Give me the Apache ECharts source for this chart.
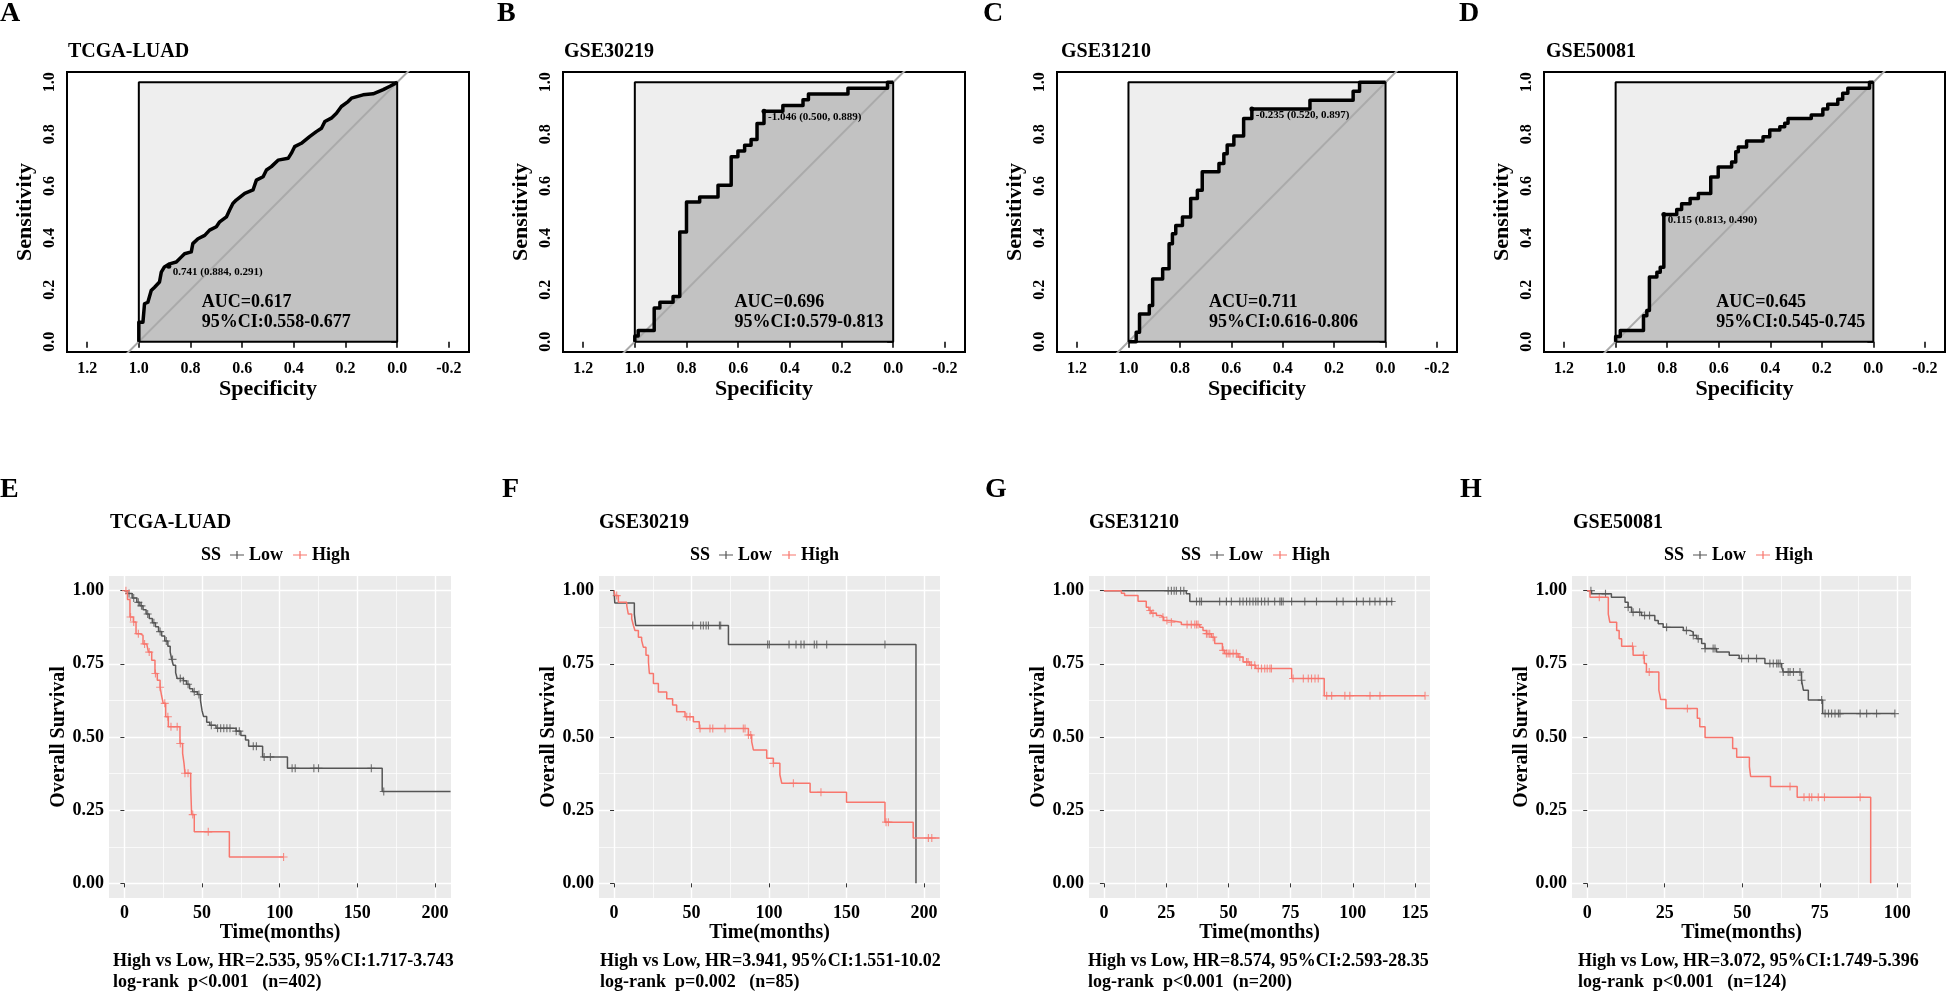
<!DOCTYPE html>
<html lang="en">
<head>
<meta charset="UTF-8">
<title>ROC and survival</title>
<script src="https://cdn.jsdelivr.net/npm/echarts@6.0.0/dist/echarts.min.js"></script>
<style>html,body{margin:0;padding:0;background:#fff;}</style>
</head>
<body>
<div id="main" style="width:1946px;height:995px;"></div>
<script>
// ---- ROC data: [specificity, sensitivity] ----
var rocTcga = [[1,0],[1,0.075],[0.984,0.075],[0.978,0.146],[0.965,0.152],[0.952,0.197],[0.939,0.210],[0.920,0.230],[0.913,0.268],[0.901,0.288],[0.881,0.300],[0.855,0.307],[0.836,0.326],[0.823,0.339],[0.797,0.346],[0.791,0.378],[0.771,0.397],[0.745,0.410],[0.726,0.430],[0.700,0.443],[0.687,0.462],[0.661,0.481],[0.649,0.507],[0.636,0.533],[0.623,0.546],[0.590,0.572],[0.558,0.585],[0.545,0.623],[0.519,0.636],[0.506,0.662],[0.487,0.675],[0.461,0.700],[0.422,0.707],[0.410,0.726],[0.397,0.752],[0.371,0.765],[0.339,0.791],[0.313,0.810],[0.293,0.823],[0.280,0.849],[0.255,0.862],[0.235,0.881],[0.216,0.907],[0.190,0.926],[0.177,0.939],[0.132,0.952],[0.093,0.956],[0.054,0.972],[0.028,0.985],[0,1]];
var rocGse30219 = [[1,0],[1,0.022],[0.987,0.022],[0.987,0.043],[0.925,0.043],[0.925,0.130],[0.903,0.130],[0.903,0.152],[0.852,0.152],[0.852,0.174],[0.826,0.174],[0.826,0.423],[0.800,0.423],[0.800,0.539],[0.749,0.539],[0.749,0.558],[0.678,0.558],[0.678,0.603],[0.627,0.603],[0.627,0.713],[0.601,0.713],[0.601,0.735],[0.575,0.735],[0.575,0.757],[0.550,0.757],[0.550,0.780],[0.527,0.780],[0.527,0.841],[0.500,0.841],[0.500,0.889],[0.427,0.889],[0.427,0.911],[0.349,0.911],[0.349,0.933],[0.328,0.933],[0.328,0.955],[0.175,0.955],[0.175,0.977],[0.022,0.977],[0.022,1],[0,1]];
var rocGse31210 = [[1,0],[0.970,0],[0.970,0.036],[0.957,0.036],[0.957,0.107],[0.919,0.107],[0.919,0.139],[0.906,0.139],[0.906,0.242],[0.867,0.242],[0.867,0.281],[0.842,0.281],[0.842,0.378],[0.829,0.378],[0.829,0.416],[0.816,0.416],[0.816,0.448],[0.790,0.448],[0.790,0.481],[0.758,0.481],[0.758,0.552],[0.732,0.552],[0.732,0.584],[0.713,0.584],[0.713,0.655],[0.648,0.655],[0.648,0.687],[0.629,0.687],[0.629,0.725],[0.616,0.725],[0.616,0.758],[0.590,0.758],[0.590,0.793],[0.552,0.793],[0.552,0.861],[0.520,0.861],[0.520,0.897],[0.294,0.897],[0.294,0.931],[0.126,0.931],[0.126,0.966],[0.101,0.966],[0.101,1],[0,1]];
var rocGse50081 = [[1,0],[1,0.02],[0.982,0.02],[0.982,0.043],[0.892,0.043],[0.892,0.10],[0.879,0.10],[0.879,0.12],[0.869,0.12],[0.869,0.249],[0.840,0.249],[0.840,0.268],[0.827,0.268],[0.827,0.287],[0.813,0.287],[0.813,0.490],[0.763,0.490],[0.763,0.51],[0.744,0.51],[0.744,0.532],[0.711,0.532],[0.711,0.552],[0.679,0.552],[0.679,0.571],[0.631,0.571],[0.631,0.635],[0.602,0.635],[0.602,0.674],[0.550,0.674],[0.550,0.693],[0.534,0.693],[0.534,0.732],[0.524,0.732],[0.524,0.751],[0.492,0.751],[0.492,0.774],[0.428,0.774],[0.428,0.79],[0.402,0.79],[0.402,0.816],[0.363,0.816],[0.363,0.829],[0.344,0.829],[0.344,0.842],[0.331,0.842],[0.331,0.861],[0.241,0.861],[0.241,0.874],[0.196,0.874],[0.196,0.897],[0.177,0.897],[0.177,0.916],[0.138,0.916],[0.138,0.935],[0.119,0.935],[0.119,0.958],[0.099,0.958],[0.099,0.977],[0.015,0.977],[0.015,1],[0,1]];
var rocCurves = [rocTcga, rocGse30219, rocGse31210, rocGse50081];
var cohorts = ['TCGA-LUAD', 'GSE30219', 'GSE31210', 'GSE50081'];
var aucLabels = ['AUC=0.617\n95%CI:0.558-0.677', 'AUC=0.696\n95%CI:0.579-0.813', 'ACU=0.711\n95%CI:0.616-0.806', 'AUC=0.645\n95%CI:0.545-0.745'];
var aucSpec = [0.756, 0.614, 0.687, 0.61];
// best threshold: [specificity, sensitivity, cut-off]
var bestThres = [[0.884, 0.291, '0.741'], [0.500, 0.889, '-1.046'], [0.520, 0.897, '-0.235'], [0.813, 0.490, '0.115']];
var specTicks = [-0.2, 0, 0.2, 0.4, 0.6, 0.8, 1.0, 1.2];
var sensTicks = [0, 0.2, 0.4, 0.6, 0.8, 1.0];

// ---- Kaplan-Meier data: [months, survival] ----
var kmLowE = [[0,1],[2,0.99],[5,0.975],[8,0.96],[10,0.948],[12,0.935],[14,0.92],[16,0.905],[18,0.89],[20,0.877],[22,0.86],[24,0.845],[26,0.828],[28,0.81],[29.5,0.79],[30.5,0.765],[31.5,0.745],[33,0.72],[34,0.70],[38,0.692],[40,0.68],[42,0.665],[44,0.655],[47,0.645],[49,0.625],[50,0.59],[51,0.57],[53,0.55],[55,0.54],[59,0.53],[72,0.52],[75,0.505],[78,0.49],[80,0.468],[89,0.432],[105,0.393],[166,0.314],[210,0.314]];
var kmHighE = [[0,1],[2,0.97],[3.6,0.91],[5.8,0.893],[7.5,0.853],[10,0.847],[12,0.818],[14.4,0.813],[15.5,0.79],[17.6,0.762],[19.7,0.717],[21.2,0.694],[23,0.67],[24,0.64],[25,0.615],[26.6,0.569],[28.3,0.535],[35.8,0.478],[37.5,0.444],[38.4,0.41],[39,0.376],[42.7,0.331],[43.3,0.235],[45,0.176],[67.6,0.09],[102.5,0.09]];
var censLowE = [3,6,9,11,15,19,23,27,31,36,38,41,45,48,56,60,62,64,66,68,72,74,83,85,90,94,108,110,122,125,159,167];
var censHighE = [1,4,6,9,13,16,20,23,26,28,30,34,36,39,41,44,54,102.5];

var kmLowF = [[0,1],[0.5,0.958],[13.1,0.92],[14,0.881],[73.8,0.816],[194.8,0]];
var kmHighF = [[0,1],[0.6,0.983],[2.8,0.96],[8.2,0.949],[9.2,0.92],[11.4,0.904],[12.5,0.881],[13.5,0.864],[15.7,0.841],[17.8,0.83],[18.9,0.807],[20.6,0.779],[22.2,0.756],[22.8,0.717],[25.4,0.683],[28.6,0.654],[34,0.631],[37.8,0.609],[40.4,0.586],[45.8,0.569],[51.2,0.552],[55,0.529],[86.7,0.507],[88.8,0.484],[89.9,0.456],[98.5,0.427],[102.8,0.41],[107,0.371],[108.2,0.342],[126.5,0.311],[150,0.277],[174.8,0.209],[193,0.155],[210,0.155]];
var censLowF = [50.8,55.9,57.6,59.4,60.9,68,68.8,99.1,100.2,112.9,117.4,120.6,122.6,129.2,130.8,137.2,174.8];
var censHighF = [1.7,46.9,49,55.5,61.9,63.7,71.6,83.4,84.5,86.7,88.2,102.8,115.7,133.5,175.5,177,202.8,205];

var kmLowG = [[0,1],[33.1,0.989],[34.5,0.963],[116,0.963]];
var kmHighG = [[0,1],[7,0.991],[8.3,0.983],[13.7,0.964],[17,0.943],[18.1,0.932],[19,0.923],[21.1,0.915],[23,0.909],[24,0.898],[26.4,0.892],[31.1,0.884],[38.5,0.875],[39.8,0.864],[41.2,0.853],[43.2,0.841],[44.5,0.819],[47.6,0.796],[48.5,0.785],[53.9,0.773],[55.9,0.756],[58.6,0.745],[61,0.734],[75.4,0.70],[88.5,0.641],[129,0.641]];
var censLowG = [25.8,27.1,28.2,29.1,30.8,32.1,37.2,38.5,39.2,46.5,49.2,51.2,54.6,55.9,57.3,58.6,59.9,61,61.9,63.3,64.6,66,68.6,70.7,71.3,72,75.4,80.7,85.4,93.5,96.1,101.5,104.2,106.8,108.9,110.9,113.6,115.6];
var censHighG = [18.6,19.7,23.7,25.3,27.1,33.4,35.1,36.5,37.2,37.8,41.2,41.8,42.5,43.9,47.9,49.2,49.9,50.6,51.9,53.2,54.6,57.3,57.9,59.3,60.6,62,63.3,64.6,65.6,66.7,67.3,76,80.1,82.1,83.4,84.8,86.1,89.5,91.5,96.8,98.8,106.9,110.9,129];

var kmLowH = [[0,1],[1.4,0.989],[7.8,0.977],[12.2,0.96],[13.2,0.943],[14.3,0.926],[17.5,0.915],[21.8,0.898],[22.9,0.887],[24.5,0.875],[31,0.864],[33.1,0.858],[34.2,0.847],[35.3,0.836],[36.9,0.819],[38,0.802],[41.7,0.79],[45.8,0.779],[49,0.768],[57.3,0.751],[62.7,0.739],[63.2,0.722],[69.1,0.694],[69.7,0.66],[71.3,0.626],[75.9,0.58],[99.2,0.58]];
var kmHighH = [[0,1],[0.9,0.977],[6.8,0.92],[7.3,0.892],[9.5,0.864],[10.3,0.836],[11.1,0.81],[14.8,0.779],[18.4,0.751],[19.1,0.722],[23.1,0.66],[23.7,0.628],[25.4,0.597],[35.5,0.564],[36.3,0.535],[38,0.498],[46.9,0.461],[48.2,0.431],[52.3,0.399],[52.7,0.365],[59.1,0.331],[67.7,0.294],[91.4,0]];
var censLowH = [1.2,5.9,13.2,14.8,16.9,18.5,20.1,25.6,32,34.2,35.8,38,40.6,41.2,49.8,52,54.6,58.9,60,61.1,61.6,62.2,63.2,64.8,65.4,66.5,68.6,69.1,75.6,76.7,77.8,78.8,79.9,81,81.5,88,90.1,93.3,99.2];
var censHighH = [3.9,14.6,18.1,20,32.3,65.4,69.9,71.6,72.4,74.5,76.5,88];

var kmLow = [kmLowE, kmLowF, kmLowG, kmLowH];
var kmHigh = [kmHighE, kmHighF, kmHighG, kmHighH];
var censLow = [censLowE, censLowF, censLowG, censLowH];
var censHigh = [censHighE, censHighF, censHighG, censHighH];
var timeTicks = [[0,50,100,150,200], [0,50,100,150,200], [0,25,50,75,100,125], [0,25,50,75,100]];
var timeMinor = [[25,75,125,175], [25,75,125,175], [12.5,37.5,62.5,87.5,112.5], [12.5,37.5,62.5,87.5]];
var survTicks = [0, 0.25, 0.5, 0.75, 1];
var survMinor = [0.125, 0.375, 0.625, 0.875];
var kmNotes = [
    'High vs Low, HR=2.535, 95%CI:1.717-3.743\nlog-rank  p<0.001   (n=402)',
    'High vs Low, HR=3.941, 95%CI:1.551-10.02\nlog-rank  p=0.002   (n=85)',
    'High vs Low, HR=8.574, 95%CI:2.593-28.35\nlog-rank  p<0.001  (n=200)',
    'High vs Low, HR=3.072, 95%CI:1.749-5.396\nlog-rank  p<0.001   (n=124)'
];

// ---- layout ----
var FONT = 'Liberation Serif';
var rocLeft = [67, 563, 1057, 1544], rocWidth = [402, 402, 400, 401];
var kmLeft = [109, 599, 1089, 1572], kmWidth = [342, 341, 341, 339];
var kmRange = [[-9.9, 210.3], [-9.7, 210.3], [-6, 131], [-4.9, 104.4]];
var topLetters = ['A', 'B', 'C', 'D'], botLetters = ['E', 'F', 'G', 'H'];
var topLetterX = [0, 497, 983, 1459], botLetterX = [0, 502, 985, 1460];
var rocTitleX = [68, 564, 1061, 1546], kmTitleX = [110, 599, 1089, 1573];
var ssX = [201, 690, 1181, 1664], noteX = [113, 600, 1088, 1578];
var GREY = '#555555', RED = '#F8766D';
var PLUS = 'path://M4.3,0H5.7V10H4.3ZM0,4.3H10V5.7H0Z';

function txt(size) {
    return {fontFamily: FONT, fontWeight: 'bold', fontSize: size, color: '#000'};
}
function survAt(curve, t) {
    var s = curve[0][1];
    for (var i = 0; i < curve.length; i++) {
        if (curve[i][0] <= t) s = curve[i][1]; else break;
    }
    return s;
}
// text (and optional dot) anchored at a data point of the ROC plot
function annotation(label, size, lh, dot, dx, dy) {
    return function (params, api) {
        var p = api.coord([api.value(0), api.value(1)]);
        var kids = [];
        if (dot) kids.push({type: 'circle', shape: {cx: p[0], cy: p[1], r: 2.5}, style: {fill: '#000'}});
        kids.push({type: 'text', x: p[0] + dx, y: p[1] + dy, style: {
            text: label, fill: '#000', font: 'bold ' + size + 'px "' + FONT + '"',
            align: 'left', verticalAlign: 'middle', lineHeight: lh}});
        return {type: 'group', children: kids};
    };
}

var grids = [], xAxes = [], yAxes = [], series = [], titles = [], legends = [];

function addTitle(text, left, top, size, lh) {
    var st = txt(size);
    if (lh) st.lineHeight = lh;
    titles.push({text: text, left: left, top: top, padding: 0, textStyle: st});
}

// ROC panels
for (var i = 0; i < 4; i++) {
    var gi = grids.length;
    grids.push({left: rocLeft[i], top: 72, width: rocWidth[i], height: 280, show: true,
        backgroundColor: '#fff', borderColor: '#000', borderWidth: 2, outerBoundsMode: 'none'});
    var xi = xAxes.length, yi = yAxes.length;
    xAxes.push({
        gridIndex: gi, type: 'value', min: -0.278, max: 1.278, inverse: true,
        axisLine: {show: false},
        axisTick: {show: true, customValues: specTicks, length: 6, lineStyle: {color: '#000', width: 1.5}},
        axisLabel: {customValues: specTicks, margin: 9, formatter: function (v) { return v.toFixed(1); }, fontFamily: FONT, fontWeight: 'bold', fontSize: 16, color: '#000'},
        splitLine: {show: false},
        name: 'Specificity', nameLocation: 'middle', nameGap: 24, nameTextStyle: txt(22)
    });
    yAxes.push({
        gridIndex: gi, type: 'value', min: -0.04, max: 1.04,
        axisLine: {show: false},
        axisTick: {show: true, customValues: sensTicks, length: 6, lineStyle: {color: '#000', width: 1.5}},
        axisLabel: {customValues: sensTicks, rotate: 90, margin: 9, formatter: function (v) { return v.toFixed(1); }, fontFamily: FONT, fontWeight: 'bold', fontSize: 16, color: '#000'},
        splitLine: {show: false},
        name: 'Sensitivity', nameLocation: 'middle', nameRotate: 90, nameGap: 31, nameTextStyle: txt(22)
    });
    var ax = {xAxisIndex: xi, yAxisIndex: yi, silent: true, animation: false};
    // light box under the whole ROC square
    series.push(Object.assign({}, ax, {type: 'line', symbol: 'none', data: [[1, 1], [0, 1]], lineStyle: {width: 0}, areaStyle: {color: '#EEEEEE', opacity: 1}}));
    // area under the curve
    series.push(Object.assign({}, ax, {type: 'line', symbol: 'none', data: rocCurves[i], lineStyle: {width: 0}, areaStyle: {color: '#C2C2C2', opacity: 1}}));
    // chance diagonal
    series.push(Object.assign({}, ax, {type: 'line', symbol: 'none', data: [[1.3, -0.3], [-0.3, 1.3]], clip: true, lineStyle: {color: '#AAAAAA', width: 2}}));
    // square border
    series.push(Object.assign({}, ax, {type: 'line', symbol: 'none', data: [[1, 0], [1, 1], [0, 1], [0, 0], [1, 0]], lineStyle: {color: '#000', width: 2}}));
    // ROC curve
    series.push(Object.assign({}, ax, {type: 'line', symbol: 'none', data: rocCurves[i], lineStyle: {color: '#000', width: 3.5, join: 'round'}}));
    // best threshold with its label
    var bt = bestThres[i];
    var thrLabel = bt[2] + ' (' + bt[0].toFixed(3) + ', ' + bt[1].toFixed(3) + ')';
    series.push(Object.assign({}, ax, {type: 'custom', z: 5, data: [[bt[0], bt[1]]],
        renderItem: annotation(thrLabel, 11, 13, true, 4, 6)}));
    // AUC annotation
    series.push(Object.assign({}, ax, {type: 'custom', z: 5, data: [[aucSpec[i], 0.112]],
        renderItem: annotation(aucLabels[i], 18, 20, false, 0, 0)}));

    addTitle(topLetters[i], topLetterX[i], 0, 28);
    addTitle(cohorts[i], rocTitleX[i], 42, 20);
}

// Kaplan-Meier panels
for (var k = 0; k < 4; k++) {
    var g = grids.length;
    grids.push({left: kmLeft[k], top: 576, width: kmWidth[k], height: 322, show: true,
        backgroundColor: '#EBEBEB', borderWidth: 0, outerBoundsMode: 'none'});
    var xMain = xAxes.length, yMain = yAxes.length;
    xAxes.push({
        gridIndex: g, type: 'value', position: 'bottom', min: kmRange[k][0], max: kmRange[k][1],
        axisLine: {show: false},
        axisTick: {show: true, customValues: timeTicks[k], length: 4, lineStyle: {color: '#333', width: 1}},
        axisLabel: {customValues: timeTicks[k], margin: 6, fontFamily: FONT, fontWeight: 'bold', fontSize: 18, color: '#000'},
        splitLine: {show: true, lineStyle: {color: '#fff', width: 1.4}},
        name: 'Time(months)', nameLocation: 'middle', nameGap: 19, nameTextStyle: txt(20)
    });
    xAxes.push({
        gridIndex: g, type: 'value', position: 'top', min: kmRange[k][0], max: kmRange[k][1],
        axisLine: {show: false}, axisLabel: {show: false},
        axisTick: {show: false, customValues: timeMinor[k]},
        splitLine: {show: true, lineStyle: {color: '#fff', width: 0.7}}
    });
    yAxes.push({
        gridIndex: g, type: 'value', position: 'left', min: -0.05, max: 1.05,
        axisLine: {show: false},
        axisTick: {show: true, customValues: survTicks, length: 4, lineStyle: {color: '#333', width: 1}},
        axisLabel: {customValues: survTicks, margin: 5, formatter: function (v) { return v.toFixed(2); }, fontFamily: FONT, fontWeight: 'bold', fontSize: 18, color: '#000'},
        splitLine: {show: true, lineStyle: {color: '#fff', width: 1.4}},
        name: 'Overall Survival', nameLocation: 'middle', nameRotate: 90, nameGap: 37, nameTextStyle: txt(20)
    });
    yAxes.push({
        gridIndex: g, type: 'value', position: 'right', min: -0.05, max: 1.05,
        axisLine: {show: false}, axisLabel: {show: false},
        axisTick: {show: false, customValues: survMinor},
        splitLine: {show: true, lineStyle: {color: '#fff', width: 0.7}}
    });
    var km = {xAxisIndex: xMain, yAxisIndex: yMain, animation: false, silent: true};
    var groups = [['Low', kmLow[k], censLow[k], GREY], ['High', kmHigh[k], censHigh[k], RED]];
    groups.forEach(function (grp) {
        series.push(Object.assign({}, km, {type: 'line', name: grp[0], step: 'end', symbol: 'none', data: grp[1],
            itemStyle: {color: grp[3]}, lineStyle: {color: grp[3], width: 1.5}}));
        var curve = grp[1];
        series.push(Object.assign({}, km, {type: 'scatter', name: grp[0], symbol: PLUS, symbolSize: 8,
            itemStyle: {color: grp[3]},
            data: grp[2].map(function (t) { return [t, survAt(curve, t)]; })}));
    });
    legends.push({
        left: ssX[k] + 29, top: 546, padding: 0, itemWidth: 14, itemHeight: 10, itemGap: 10,
        selectedMode: false, icon: 'path://M0,4.4H14V5.6H0ZM6.4,1H7.6V9H6.4Z',
        data: ['Low', 'High'], textStyle: txt(18)
    });

    addTitle(botLetters[k], botLetterX[k], 476, 28);
    addTitle(cohorts[k], kmTitleX[k], 513, 20);
    addTitle('SS', ssX[k], 546, 18);
    addTitle(kmNotes[k], noteX[k], 951, 18, 21);
}

var chart = echarts.init(document.getElementById('main'));
chart.setOption({
    animation: false,
    backgroundColor: '#fff',
    title: titles,
    legend: legends,
    grid: grids,
    xAxis: xAxes,
    yAxis: yAxes,
    series: series
});
</script>
</body>
</html>
